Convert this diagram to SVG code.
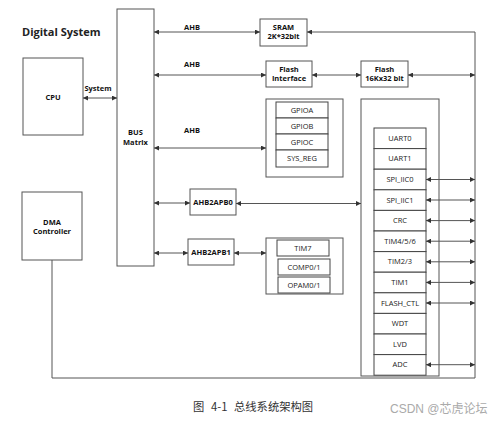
<svg xmlns="http://www.w3.org/2000/svg" width="500" height="421" viewBox="0 0 500 421">
<defs>
<style>
.bx{fill:#fff;stroke:#555;stroke-width:1}
.ib{fill:#fff;stroke:#444;stroke-width:1}
.ln{fill:none;stroke:#555;stroke-width:1}
.ar{marker-start:url(#a);marker-end:url(#a)}
.b{font-family:"Open Sans","Liberation Sans",sans-serif;font-weight:bold;font-size:7.5px;fill:#111;text-anchor:middle}
.r{font-family:"Open Sans","Liberation Sans",sans-serif;font-size:7.5px;fill:#222;text-anchor:middle}
</style>
<marker id="a" viewBox="0 0 6 6" refX="6" refY="3" markerWidth="5" markerHeight="5" markerUnits="userSpaceOnUse" orient="auto-start-reverse">
<path d="M0,0 L6,3 L0,6 z" fill="#333"/>
</marker>
</defs>
<rect width="500" height="421" fill="#fff"/>
<text x="22" y="35.5" font-family="Open Sans, Liberation Sans, sans-serif" font-weight="bold" font-size="11" fill="#222">Digital System</text>

<g id="cpu"><rect class="bx" x="23" y="58" width="60" height="77"/><text class="b" x="53" y="100">CPU</text></g>
<g id="dma"><rect class="bx" x="22" y="192" width="60" height="68"/><text class="b" x="52" y="224.5">DMA</text><text class="b" x="52" y="233.5">Controller</text></g>
<g id="bus"><rect class="bx" x="117" y="9" width="37" height="257"/><text class="b" x="135.5" y="134.5">BUS</text><text class="b" x="135.5" y="144.5">Matrix</text></g>
<g id="sram"><rect class="bx" x="260" y="19" width="47" height="27"/><text class="b" x="283.5" y="29.5">SRAM</text><text class="b" x="283.5" y="38.5">2K*32bit</text></g>
<g id="flashif"><rect class="bx" x="266" y="61" width="46" height="26"/><text class="b" x="289" y="71.5">Flash</text><text class="b" x="289" y="80.5">Interface</text></g>
<g id="flash"><rect class="bx" x="361" y="61" width="47" height="26"/><text class="b" x="384.5" y="71.5">Flash</text><text class="b" x="384.5" y="80.5">16Kx32 bit</text></g>

<g id="gpio">
<rect class="bx" x="266" y="99" width="77" height="78"/>
<rect class="ib" x="276" y="102" width="52" height="16"/><text class="r" x="302" y="112.5">GPIOA</text>
<rect class="ib" x="276" y="118" width="52" height="16"/><text class="r" x="302" y="128.5">GPIOB</text>
<rect class="ib" x="276" y="134" width="52" height="16"/><text class="r" x="302" y="144.5">GPIOC</text>
<rect class="ib" x="276" y="150" width="52" height="17"/><text class="r" x="302" y="161">SYS_REG</text>
</g>

<g id="ahb2apb0"><rect class="bx" x="190" y="189" width="46" height="26"/><text class="b" x="213" y="204.5">AHB2APB0</text></g>
<g id="ahb2apb1"><rect class="bx" x="188" y="239" width="46" height="26"/><text class="b" x="211" y="254.5">AHB2APB1</text></g>

<g id="tim">
<rect class="bx" x="266" y="238" width="77" height="56"/>
<rect class="ib" x="277" y="240" width="52" height="16"/><text class="r" x="303" y="250.5">TIM7</text>
<rect class="ib" x="278" y="259" width="52" height="16"/><text class="r" x="304" y="269.5">COMP0/1</text>
<rect class="ib" x="278" y="277" width="52" height="16"/><text class="r" x="304" y="287.5">OPAM0/1</text>
</g>

<g id="peripherals">
<rect class="bx" x="361" y="99" width="78" height="277"/>
<rect class="ib" x="374" y="128" width="52" height="20.6"/><text class="r" x="400" y="140.8">UART0</text>
<rect class="ib" x="374" y="148.6" width="52" height="20.6"/><text class="r" x="400" y="161.4">UART1</text>
<rect class="ib" x="374" y="169.2" width="52" height="20.6"/><text class="r" x="400" y="182">SPI_IIC0</text>
<rect class="ib" x="374" y="189.8" width="52" height="20.6"/><text class="r" x="400" y="202.6">SPI_IIC1</text>
<rect class="ib" x="374" y="210.4" width="52" height="20.6"/><text class="r" x="400" y="223.2">CRC</text>
<rect class="ib" x="374" y="231" width="52" height="20.6"/><text class="r" x="400" y="243.8">TIM4/5/6</text>
<rect class="ib" x="374" y="251.6" width="52" height="20.6"/><text class="r" x="400" y="264.4">TIM2/3</text>
<rect class="ib" x="374" y="272.2" width="52" height="20.6"/><text class="r" x="400" y="285">TIM1</text>
<rect class="ib" x="374" y="292.8" width="52" height="20.6"/><text class="r" x="400" y="305.6">FLASH_CTL</text>
<rect class="ib" x="374" y="313.4" width="52" height="20.6"/><text class="r" x="400" y="326.2">WDT</text>
<rect class="ib" x="374" y="334" width="52" height="20.6"/><text class="r" x="400" y="346.8">LVD</text>
<rect class="ib" x="374" y="354.6" width="52" height="20.6"/><text class="r" x="400" y="367.4">ADC</text>
</g>

<g id="connectors">
<line class="ln ar" x1="83" y1="98" x2="117" y2="98"/>
<line class="ln ar" x1="154" y1="32" x2="260" y2="32"/>
<path class="ln" d="M52,260 V378 H475 V32 H307" marker-end="url(#a)"/>
<line class="ln ar" x1="154" y1="75" x2="266" y2="75"/>
<line class="ln ar" x1="312" y1="75" x2="361" y2="75"/>
<line class="ln ar" x1="408" y1="75" x2="475" y2="75"/>
<line class="ln ar" x1="154" y1="148" x2="266" y2="148"/>
<line class="ln ar" x1="154" y1="203" x2="190" y2="203"/>
<line class="ln ar" x1="236" y1="203.5" x2="361" y2="203.5"/>
<line class="ln ar" x1="154" y1="253" x2="188" y2="253"/>
<line class="ln ar" x1="234" y1="253" x2="266" y2="253"/>
<line class="ln ar" x1="426" y1="179.5" x2="475" y2="179.5"/>
<line class="ln ar" x1="426" y1="200" x2="475" y2="200"/>
<line class="ln ar" x1="426" y1="220.6" x2="475" y2="220.6"/>
<line class="ln ar" x1="426" y1="241.2" x2="475" y2="241.2"/>
<line class="ln ar" x1="426" y1="261.8" x2="475" y2="261.8"/>
<line class="ln ar" x1="426" y1="282.4" x2="475" y2="282.4"/>
<line class="ln ar" x1="426" y1="303" x2="475" y2="303"/>
<line class="ln ar" x1="426" y1="364.7" x2="475" y2="364.7"/>
<text class="b" x="98" y="91" font-size="7">System</text>
<text class="b" x="192" y="30">AHB</text>
<text class="b" x="192" y="67">AHB</text>
<text class="b" x="192" y="133">AHB</text>
</g>

<text y="411" font-family="Noto Sans CJK SC, sans-serif" font-size="11.3" fill="#333"><tspan x="193">图</tspan><tspan x="211">4-1</tspan><tspan x="234">总线系统架构图</tspan></text>
<text x="390" y="413" font-family="Liberation Sans, Noto Sans CJK SC, sans-serif" font-size="12" fill="#aaa">CSDN @芯虎论坛</text>
</svg>
